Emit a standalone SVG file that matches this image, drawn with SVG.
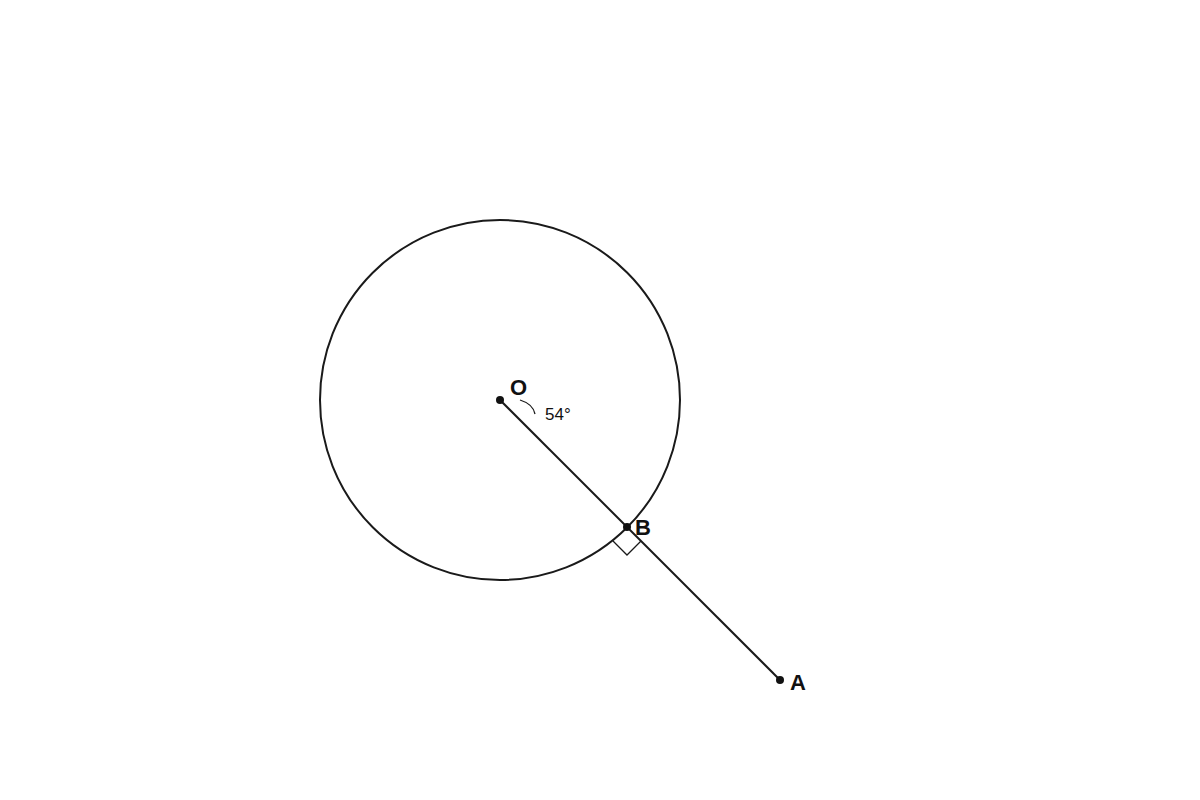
<svg xmlns="http://www.w3.org/2000/svg" width="1200" height="800" viewBox="0 0 1200 800">
<style>
.ln{fill:none;stroke:#1a1a1a;stroke-width:2}
.thin{fill:none;stroke:#1a1a1a;stroke-width:1.3}
.pt{fill:#111}
.lbl{font-family:"Liberation Sans",Arial,sans-serif;font-weight:bold;font-size:22px;fill:#111}
.ang{font-family:"Liberation Sans",Arial,sans-serif;font-size:17px;fill:#111}
</style>
<rect width="1200" height="800" fill="#fff"/>
<g id="circle"><circle class="ln" cx="500" cy="400" r="180"/></g>
<g id="connectors">
<line class="ln" x1="500" y1="400" x2="780" y2="680"/>
<polyline class="thin" points="613,541 627,555 641,541"/>
<path class="thin" d="M520,400 Q533,404 535,414"/>
</g>
<g id="O"><circle class="pt" cx="500" cy="400" r="4"/><text class="lbl" x="510" y="395">O</text></g>
<g id="angle"><text class="ang" x="545" y="419.5">54°</text></g>
<g id="B"><circle class="pt" cx="627" cy="527" r="4"/><text class="lbl" x="635" y="535">B</text></g>
<g id="A"><circle class="pt" cx="780" cy="680" r="4"/><text class="lbl" x="790" y="690">A</text></g>
</svg>
